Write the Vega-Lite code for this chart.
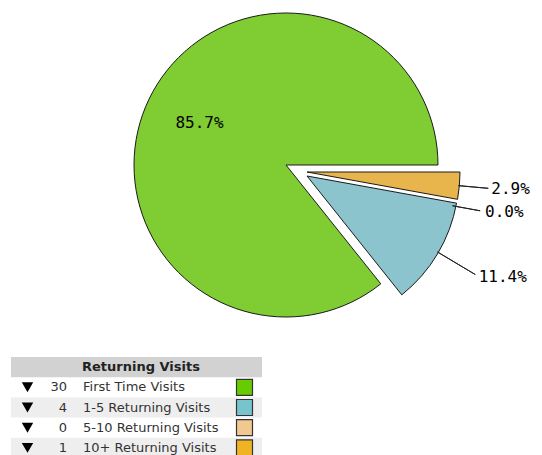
{
  "$schema": "https://vega.github.io/schema/vega-lite/v6.json",
  "width": 542,
  "height": 455,
  "autosize": {"type": "fit", "contains": "padding"},
  "padding": 0,
  "background": "white",
  "config": {"view": {"stroke": null}},
  "data": {
    "values": [
      {"item": "First Time Visits", "count": 30, "share": 0.857, "index": 1},
      {"item": "1-5 Returning Visits", "count": 4, "share": 0.114, "index": 2},
      {"item": "5-10 Returning Visits", "count": 0, "share": 0.0, "index": 3},
      {"item": "10+ Returning Visits", "count": 1, "share": 0.029, "index": 4}
    ]
  },
  "transform": [
    {"stack": "count", "groupby": [], "sort": [{"field": "index", "order": "descending"}], "as": ["t0", "t1"]}
  ],
  "layer": [
    {
      "transform": [{"filter": "datum.index === 1"}],
      "mark": {"type": "rect", "color": "#d2d2d2"},
      "encoding": {
        "y": {
          "datum": "Returning Visits",
          "type": "nominal",
          "scale": {
            "domain": ["Returning Visits", "First Time Visits", "1-5 Returning Visits", "5-10 Returning Visits", "10+ Returning Visits"],
            "paddingInner": 0,
            "paddingOuter": 0,
            "range": [357, 458]
          },
          "axis": null
        },
        "x": {"value": 11},
        "x2": {"value": 262}
      }
    },
    {
      "transform": [{"filter": "datum.index === 2 || datum.index === 4"}],
      "mark": {"type": "rect", "color": "#eeeeee", "clip": true},
      "encoding": {
        "y": {"field": "item", "type": "nominal", "axis": null},
        "x": {"value": 11},
        "x2": {"value": 262}
      }
    },
    {
      "transform": [{"filter": "datum.index === 1"}],
      "mark": {"type": "text", "text": "Returning Visits", "font": "DejaVu Sans", "fontSize": 13, "fontWeight": "bold", "color": "#222", "align": "center", "baseline": "middle"},
      "encoding": {
        "y": {"datum": "Returning Visits", "type": "nominal", "axis": null},
        "x": {"value": 141}
      }
    },
    {
      "mark": {"type": "point", "shape": "triangle-down", "size": 130, "filled": true, "color": "#000", "opacity": 1, "strokeWidth": 0, "clip": true},
      "encoding": {
        "y": {"field": "item", "type": "nominal", "axis": null},
        "x": {"value": 27.5}
      }
    },
    {
      "mark": {"type": "text", "font": "DejaVu Sans", "fontSize": 13, "color": "#333", "align": "right", "baseline": "middle", "clip": true},
      "encoding": {
        "y": {"field": "item", "type": "nominal", "axis": null},
        "x": {"value": 67},
        "text": {"field": "count", "type": "quantitative"}
      }
    },
    {
      "mark": {"type": "text", "font": "DejaVu Sans", "fontSize": 13, "color": "#333", "align": "left", "baseline": "middle", "clip": true},
      "encoding": {
        "y": {"field": "item", "type": "nominal", "axis": null},
        "x": {"value": 83},
        "text": {"field": "item", "type": "nominal"}
      }
    },
    {
      "mark": {"type": "point", "shape": "square", "size": 256, "filled": true, "opacity": 1, "stroke": "#333", "strokeWidth": 1.2, "clip": true},
      "encoding": {
        "y": {"field": "item", "type": "nominal", "axis": null},
        "x": {"value": 244.5},
        "color": {
          "field": "item",
          "type": "nominal",
          "scale": {
            "domain": ["First Time Visits", "1-5 Returning Visits", "5-10 Returning Visits", "10+ Returning Visits"],
            "range": ["#66cc00", "#77c4cc", "#f0c890", "#f0b323"]
          },
          "legend": null
        }
      }
    },
    {
      "transform": [{"filter": "datum.index === 1"}],
      "mark": {"type": "arc", "radius": 152, "stroke": "#1a1a1a", "strokeWidth": 1, "xOffset": 15, "yOffset": -62.5},
      "encoding": {
        "theta": {"field": "t0", "type": "quantitative", "scale": {"range": [1.5707963, 7.8539816]}},
        "theta2": {"field": "t1"},
        "fill": {
          "field": "item",
          "type": "nominal",
          "scale": {
            "domain": ["First Time Visits", "1-5 Returning Visits", "5-10 Returning Visits", "10+ Returning Visits"],
            "range": ["#7fcc33", "#8bc4cc", "#f0c890", "#e8b54d"]
          },
          "legend": null
        }
      }
    },
    {
      "transform": [{"filter": "datum.index === 2"}],
      "mark": {"type": "arc", "radius": 152, "stroke": "#1a1a1a", "strokeWidth": 1, "xOffset": 36, "yOffset": -51.5},
      "encoding": {
        "theta": {"field": "t0", "type": "quantitative"},
        "theta2": {"field": "t1"},
        "fill": {"field": "item", "type": "nominal", "legend": null}
      }
    },
    {
      "transform": [{"filter": "datum.index === 4"}],
      "mark": {"type": "arc", "radius": 153, "stroke": "#1a1a1a", "strokeWidth": 1, "xOffset": 36, "yOffset": -55.5},
      "encoding": {
        "theta": {"field": "t0", "type": "quantitative"},
        "theta2": {"field": "t1"},
        "fill": {"field": "item", "type": "nominal", "legend": null}
      }
    },
    {
      "transform": [{"filter": "datum.index === 4"}],
      "mark": {"type": "arc", "radius": 182, "radius2": 152, "padAngle": 3.14, "filled": false, "stroke": "#222", "strokeWidth": 1, "xOffset": 36, "yOffset": -55.5},
      "encoding": {
        "theta": {"field": "t0", "type": "quantitative"},
        "theta2": {"field": "t1"}
      }
    },
    {
      "transform": [{"filter": "datum.index === 3"}],
      "mark": {"type": "arc", "radius": 178, "radius2": 150, "padAngle": 3.14, "filled": false, "stroke": "#222", "strokeWidth": 1, "xOffset": 34, "yOffset": -48.5},
      "encoding": {
        "theta": {"field": "t0", "type": "quantitative"},
        "theta2": {"field": "t1"}
      }
    },
    {
      "transform": [{"filter": "datum.index === 2"}],
      "mark": {"type": "arc", "radius": 196, "radius2": 152, "padAngle": 3.14, "filled": false, "stroke": "#222", "strokeWidth": 1, "xOffset": 36, "yOffset": -53.5},
      "encoding": {
        "theta": {"field": "t0", "type": "quantitative"},
        "theta2": {"field": "t1"}
      }
    },
    {
      "mark": {"type": "text", "radius": 96, "xOffset": 15, "yOffset": -62.5, "font": "DejaVu Sans Mono", "fontSize": 16, "align": "center", "baseline": "middle", "color": "#000"},
      "encoding": {
        "theta": {"field": "count", "type": "quantitative", "stack": true},
        "order": {"field": "index", "type": "quantitative", "sort": "descending"},
        "text": {"condition": {"test": "datum.index === 1", "field": "share", "type": "quantitative", "format": ".1%"}, "value": ""}
      }
    },
    {
      "mark": {"type": "text", "radius": 185, "xOffset": 36, "yOffset": -55.5, "font": "DejaVu Sans Mono", "fontSize": 16, "align": "left", "baseline": "middle", "color": "#000"},
      "encoding": {
        "theta": {"field": "count", "type": "quantitative", "stack": true},
        "order": {"field": "index", "type": "quantitative", "sort": "descending"},
        "text": {"condition": {"test": "datum.index === 4", "field": "share", "type": "quantitative", "format": ".1%"}, "value": ""}
      }
    },
    {
      "mark": {"type": "text", "radius": 183, "xOffset": 34, "yOffset": -48.5, "font": "DejaVu Sans Mono", "fontSize": 16, "align": "left", "baseline": "middle", "color": "#000"},
      "encoding": {
        "theta": {"field": "count", "type": "quantitative", "stack": true},
        "order": {"field": "index", "type": "quantitative", "sort": "descending"},
        "text": {"condition": {"test": "datum.index === 3", "field": "share", "type": "quantitative", "format": ".1%"}, "value": ""}
      }
    },
    {
      "mark": {"type": "text", "radius": 200, "xOffset": 36, "yOffset": -53.5, "font": "DejaVu Sans Mono", "fontSize": 16, "align": "left", "baseline": "middle", "color": "#000"},
      "encoding": {
        "theta": {"field": "count", "type": "quantitative", "stack": true},
        "order": {"field": "index", "type": "quantitative", "sort": "descending"},
        "text": {"condition": {"test": "datum.index === 2", "field": "share", "type": "quantitative", "format": ".1%"}, "value": ""}
      }
    }
  ]
}
